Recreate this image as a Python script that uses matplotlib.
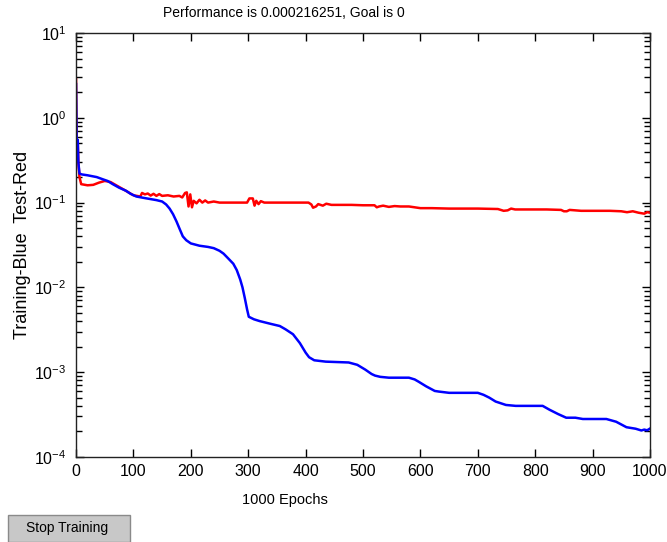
import numpy as np
import matplotlib
matplotlib.use("Agg")
from matplotlib import pyplot as plt
from matplotlib.patches import Rectangle
from matplotlib.ticker import LogLocator, MultipleLocator, NullFormatter

#################################
# data
#################################
blue_epochs = [0, 1, 2, 3, 4, 6, 10, 20, 36, 47, 55, 64, 75, 87, 95, 105, 120, 140,
               150, 157, 163, 169, 175, 181, 186, 192, 200, 215, 230, 240, 250, 257,
               265, 274, 280, 286, 290, 294, 298, 301, 310, 320, 340, 355, 365, 378,
               390, 400, 406, 415, 435, 475, 490, 504, 515, 521, 530, 545, 580, 590,
               597, 610, 625, 632, 650, 700, 710, 720, 731, 749, 766, 813, 825, 840,
               854, 870, 883, 924, 941, 959, 975, 985, 990, 995, 1000]
blue_vals = [2.5, 0.6, 0.45, 0.55, 0.3, 0.22, 0.215, 0.21, 0.2, 0.188, 0.18, 0.165,
             0.15, 0.138, 0.127, 0.118, 0.113, 0.107, 0.103, 0.095, 0.085, 0.073,
             0.06, 0.048, 0.04, 0.036, 0.033, 0.031, 0.03, 0.029, 0.027, 0.025,
             0.022, 0.019, 0.016, 0.0124, 0.01, 0.0075, 0.0055, 0.0045, 0.0042,
             0.004, 0.0037, 0.0035, 0.0032, 0.0028, 0.0022, 0.0017, 0.0015,
             0.00138, 0.00133, 0.0013, 0.00122, 0.00107, 0.00095, 0.00091,
             0.00088, 0.00086, 0.00086, 0.00082, 0.00077, 0.00068, 0.0006,
             0.00059, 0.00057, 0.00057, 0.00054, 0.0005, 0.00045, 0.00041,
             0.0004, 0.0004, 0.00036, 0.00032, 0.00029, 0.00029, 0.00028,
             0.00028, 0.00026, 0.000224, 0.000215, 0.000205, 0.00021, 0.000206,
             0.000216]

red_epochs = [0, 1, 2, 3, 4, 6, 9, 20, 30, 40, 50, 60, 70, 85, 100, 112, 115, 120,
              125, 130, 135, 140, 145, 150, 160, 170, 180, 185, 190, 193, 196, 199,
              202, 205, 210, 215, 220, 225, 230, 240, 250, 270, 298, 302, 308, 311,
              314, 318, 322, 328, 340, 360, 380, 405, 410, 413, 418, 422, 430, 436,
              445, 460, 480, 500, 520, 524, 528, 535, 545, 555, 565, 580, 590, 600,
              620, 650, 680, 700, 735, 740, 745, 752, 758, 765, 790, 820, 845, 850,
              855, 860, 880, 900, 930, 950, 960, 970, 980, 990, 995, 1000]
red_vals = [2.85, 0.55, 0.35, 0.5, 0.3, 0.2, 0.165, 0.16, 0.162, 0.172, 0.18, 0.175,
            0.16, 0.14, 0.122, 0.118, 0.13, 0.125, 0.128, 0.121, 0.127, 0.12, 0.126,
            0.12, 0.122, 0.118, 0.12, 0.115, 0.13, 0.132, 0.09, 0.125, 0.088, 0.105,
            0.098, 0.108, 0.1, 0.106, 0.1, 0.103, 0.1, 0.1, 0.1, 0.112, 0.112, 0.092,
            0.105, 0.096, 0.104, 0.1, 0.1, 0.1, 0.1, 0.1, 0.095, 0.087, 0.09, 0.096,
            0.092, 0.097, 0.094, 0.094, 0.094, 0.093, 0.093, 0.088, 0.09, 0.092,
            0.089, 0.091, 0.09, 0.09, 0.088, 0.086, 0.086, 0.085, 0.085, 0.085,
            0.084, 0.082, 0.08, 0.081, 0.085, 0.083, 0.083, 0.083, 0.082, 0.079,
            0.079, 0.082, 0.08, 0.08, 0.08, 0.079, 0.077, 0.079, 0.076, 0.074,
            0.077, 0.076]

title_text = "Performance is 0.000216251, Goal is 0"
xlabel_text = "1000 Epochs"
ylabel_text = "Training-Blue  Test-Red"
button_text = "Stop Training"

#################################
# figure
#################################
plt.rcParams['font.family'] = ['Liberation Sans', 'DejaVu Sans']
plt.rcParams['mathtext.fontset'] = 'custom'
plt.rcParams['mathtext.rm'] = 'Liberation Sans'
fs = 11.5

fig = plt.figure(figsize=(6.67, 5.42), dpi=100)
ax = fig.add_axes([0.114, 0.157, 0.8605, 0.782])

ax.plot(red_epochs, red_vals, color="#ff0000", linewidth=1.8)
ax.plot(blue_epochs, blue_vals, color="#0000ff", linewidth=1.8)

ax.set_yscale("log")
ax.set_ylim(1e-4, 1e1)
ax.set_xlim(0, 1000)
ax.xaxis.set_major_locator(MultipleLocator(100))
ax.yaxis.set_major_locator(LogLocator(base=10, numticks=100))
ax.yaxis.set_minor_locator(LogLocator(base=10, subs=np.arange(2, 10) * 1.0, numticks=100))
ax.yaxis.set_minor_formatter(NullFormatter())

ax.tick_params(which="both", direction="in", top=True, right=True, labelsize=fs,
               color="black")
ax.tick_params(which="major", length=6, width=1.0)
ax.tick_params(which="minor", length=4, width=1.0)
ax.tick_params(axis="y", pad=7)
ax.tick_params(axis="x", pad=5)
for sp in ax.spines.values():
    sp.set_linewidth(1.0)
    sp.set_color("#222222")

ax.set_ylabel(ylabel_text, fontsize=13)
ax.yaxis.set_label_coords(-0.078, 0.5)

# title and x label sit left of the axes centre in the original window
fig.text(0.426, 0.976, title_text, ha="center", va="center", fontsize=10)
fig.text(0.427, 0.077, xlabel_text, ha="center", va="center", fontsize=10.5)

# the "Stop Training" button
fig.patches.append(Rectangle((0.012, 0.0), 0.183, 0.05, transform=fig.transFigure,
                             facecolor="#c8c8c8", edgecolor="#8a8a8a", linewidth=1.0))
fig.text(0.1, 0.025, button_text, ha="center", va="center", fontsize=10)

fig.savefig("out.png", dpi=100)
